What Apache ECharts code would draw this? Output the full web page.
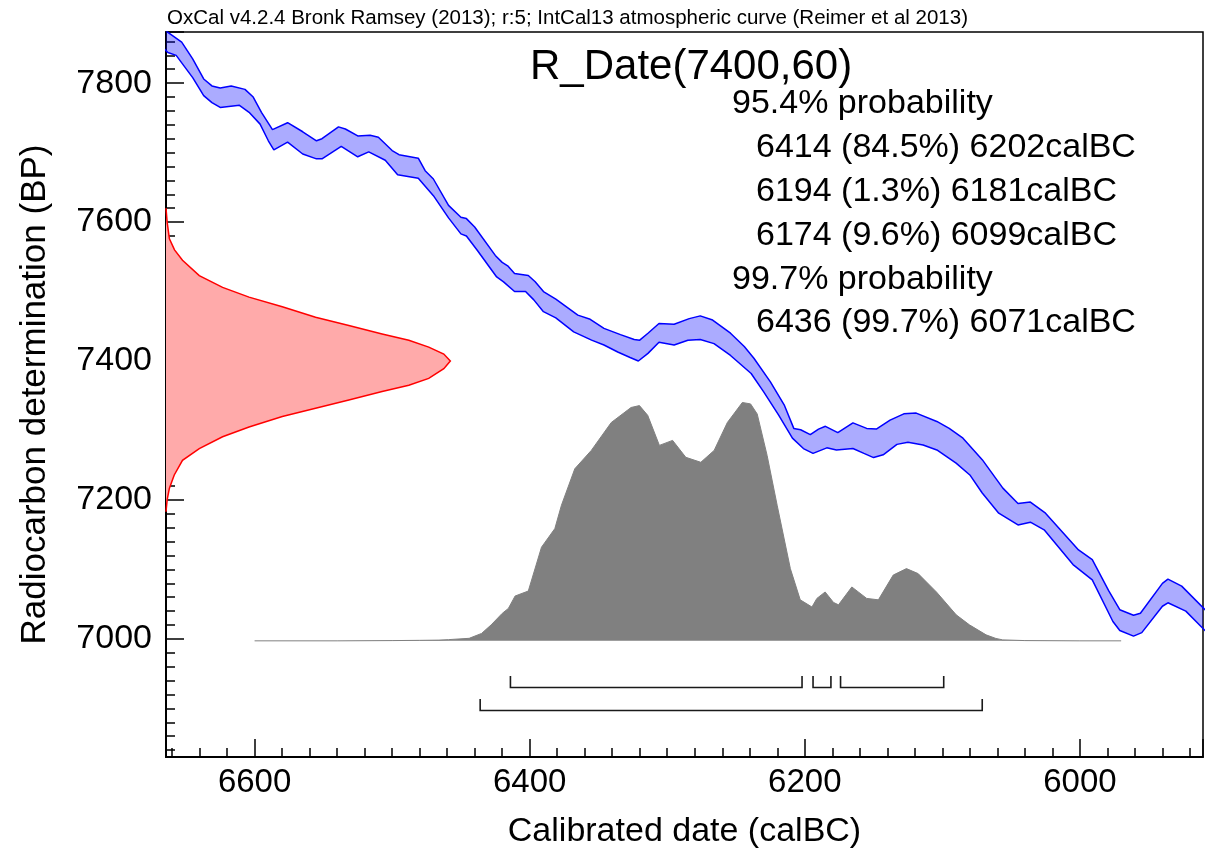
<!DOCTYPE html>
<html><head><meta charset="utf-8">
<script src="https://cdn.jsdelivr.net/npm/echarts@6/dist/echarts.min.js"></script>
<style>html,body{margin:0;padding:0;background:#fff;}#chart{width:1206px;height:854px;}</style>
</head><body><div id="chart"></div>
<script>
// ---- Data ----
const plotTitle = 'OxCal v4.2.4 Bronk Ramsey (2013); r:5; IntCal13 atmospheric curve (Reimer et al 2013)';
const dateName = 'R_Date(7400,60)';
const xAxisName = 'Calibrated date (calBC)';
const yAxisName = 'Radiocarbon determination (BP)';

// IntCal13 curve band: [calBC, BP] upper and lower edges
const calUpper = [[6666,7880],[6663,7873],[6653,7859],[6645,7835],[6637,7806],[6631,7796],[6625,7793],[6617,7796],[6607,7791],[6601,7780],[6595,7758],[6587,7733],[6576,7743],[6565,7730],[6555,7717],[6551,7720],[6539,7737],[6534,7734],[6525,7724],[6516,7725],[6510,7722],[6500,7703],[6495,7697],[6481,7692],[6476,7674],[6470,7662],[6459,7624],[6450,7607],[6446,7605],[6440,7593],[6425,7552],[6420,7542],[6416,7537],[6411,7526],[6401,7523],[6396,7514],[6390,7500],[6381,7489],[6365,7466],[6356,7460],[6346,7447],[6334,7438],[6324,7431],[6320,7430],[6314,7440],[6306,7454],[6295,7453],[6284,7461],[6276,7465],[6267,7459],[6254,7440],[6244,7421],[6237,7404],[6225,7370],[6215,7337],[6208,7303],[6203,7301],[6196,7294],[6190,7302],[6185,7306],[6176,7297],[6165,7311],[6155,7303],[6148,7302],[6138,7315],[6128,7324],[6119,7325],[6104,7313],[6095,7303],[6085,7289],[6071,7258],[6056,7217],[6045,7195],[6036,7197],[6025,7181],[6001,7128],[5991,7114],[5979,7069],[5971,7042],[5961,7034],[5956,7037],[5940,7080],[5936,7086],[5926,7076],[5908,7040]];
const calLower = [[6666,7850],[6663,7844],[6657,7840],[6645,7808],[6637,7782],[6631,7772],[6625,7765],[6611,7768],[6604,7758],[6596,7741],[6590,7717],[6586,7704],[6576,7715],[6565,7698],[6555,7691],[6551,7691],[6537,7709],[6525,7694],[6517,7701],[6505,7689],[6496,7668],[6481,7663],[6470,7638],[6459,7606],[6450,7583],[6446,7580],[6438,7559],[6424,7521],[6419,7514],[6411,7500],[6403,7500],[6397,7488],[6390,7471],[6381,7462],[6368,7442],[6355,7430],[6346,7423],[6336,7413],[6327,7405],[6321,7400],[6314,7411],[6306,7427],[6295,7423],[6285,7430],[6276,7431],[6266,7425],[6254,7408],[6239,7382],[6230,7356],[6219,7322],[6209,7289],[6201,7274],[6194,7267],[6184,7275],[6177,7272],[6165,7274],[6157,7267],[6150,7261],[6143,7265],[6133,7280],[6125,7283],[6114,7279],[6104,7272],[6090,7253],[6080,7236],[6071,7210],[6059,7181],[6045,7164],[6036,7168],[6026,7157],[6005,7107],[5991,7085],[5976,7025],[5971,7012],[5961,7004],[5955,7009],[5940,7047],[5936,7052],[5923,7040],[5908,7010]];

// Radiocarbon measurement distribution (BP, relative probability)
const measBP      = [7620, 7600, 7576, 7560, 7545, 7523, 7506, 7492, 7478, 7463, 7451, 7439, 7430, 7420, 7410, 7400, 7389, 7375, 7365, 7356, 7344, 7332, 7320, 7305, 7291, 7274, 7257, 7236, 7217, 7200, 7183];
const measProb    = [0, 0.004, 0.012, 0.03, 0.058, 0.117, 0.199, 0.292, 0.409, 0.526, 0.643, 0.76, 0.854, 0.924, 0.977, 1.0, 0.977, 0.924, 0.854, 0.76, 0.643, 0.526, 0.409, 0.292, 0.199, 0.117, 0.058, 0.029, 0.012, 0.004, 0];

// Calibrated posterior (calBC, relative probability)
const postYear = [6600, 6540, 6500, 6480, 6466, 6459, 6444, 6435, 6428, 6420, 6415.5, 6410.6, 6401, 6391.4, 6381.7, 6376.9, 6367.2, 6355.2, 6340.7, 6326.3, 6320.2, 6314.2, 6305.7, 6296.1, 6286.5, 6275.6, 6265.9, 6256.3, 6245.4, 6239.4, 6234.6, 6227.4, 6220.1, 6210.5, 6203.3, 6194.8, 6191.2, 6185.2, 6179.1, 6175.5, 6165.8, 6155, 6146.5, 6135.7, 6126.1, 6117.6, 6104.3, 6089.9, 6080.3, 6068.2, 6061.1, 6056.1, 6040, 6000, 5970];
const postProb = [0, 0, 0.001, 0.002, 0.003, 0.005, 0.0105, 0.031, 0.067, 0.115, 0.136, 0.188, 0.209, 0.393, 0.471, 0.569, 0.722, 0.799, 0.916, 0.979, 0.987, 0.946, 0.820, 0.841, 0.770, 0.749, 0.799, 0.916, 1.0, 0.994, 0.952, 0.778, 0.569, 0.303, 0.172, 0.142, 0.178, 0.205, 0.161, 0.151, 0.226, 0.178, 0.172, 0.276, 0.303, 0.282, 0.205, 0.109, 0.067, 0.025, 0.010, 0.004, 0.001, 0, 0];

// Ranges: [from calBC, to calBC, percent]
const ranges954 = [[6414, 6202, 84.5], [6194, 6181, 1.3], [6174, 6099, 9.6]];
const ranges997 = [[6436, 6071, 99.7]];
const prob954 = '95.4% probability';
const prob997 = '99.7% probability';

// ---- Chart ----
const FONT = "'Liberation Sans', Arial, Helvetica, sans-serif";
const chart = echarts.init(document.getElementById('chart'), null, { renderer: 'canvas' });

function clipOf(params) {
  const cs = params.coordSys;
  return { type: 'rect', shape: { x: cs.x, y: cs.y, width: cs.width, height: cs.height } };
}

function bandRender(params, api) {
  if (params.dataIndex !== 0) return null;
  const pts = calUpper.map(p => api.coord(p));
  for (let i = calLower.length - 1; i >= 0; i--) pts.push(api.coord(calLower[i]));
  return { type: 'polygon', shape: { points: pts }, style: { fill: 'rgba(0,0,255,0.33)' }, clipPath: clipOf(params), silent: true };
}

function measRender(params, api) {
  if (params.dataIndex !== 0) return null;
  const curve = measBP.map((bp, i) => api.coord([measProb[i], bp]));
  const b0 = api.coord([0, measBP[0]]);
  const b1 = api.coord([0, measBP[measBP.length - 1]]);
  return { type: 'group', children: [
    { type: 'polygon', shape: { points: [b0].concat(curve, [b1]) }, style: { fill: '#ffaaaa' } },
    { type: 'polyline', shape: { points: curve }, style: { stroke: '#ff0000', lineWidth: 1.5, fill: 'none' } }
  ]};
}

const BRACKET_LEVEL = [6930, 6897];
const BRACKET_TICK = 16.5;
function bracketRender(params, api) {
  const from = api.value(0), to = api.value(1), row = api.value(2);
  const y = BRACKET_LEVEL[row];
  const pts = [
    api.coord([from, y + BRACKET_TICK]), api.coord([from, y]),
    api.coord([to, y]), api.coord([to, y + BRACKET_TICK])
  ];
  return { type: 'polyline', shape: { points: pts }, style: { stroke: '#1a1a1a', lineWidth: 1.6, fill: 'none' } };
}

const bracketData = ranges954.map(r => [r[0], r[1], 0]).concat(ranges997.map(r => [r[0], r[1], 1]));

const labelFmt = v => (Math.abs(v % 200) < 1e-6 ? String(v) : '');

const axisCommon = {
  type: 'value',
  axisLine: { show: true, onZero: false, lineStyle: { color: '#000', width: 2 } },
  axisTick: { show: true, inside: true, length: 18, lineStyle: { color: '#000', width: 1.5 } },
  minorTick: { show: true, splitNumber: 10, length: 9, lineStyle: { color: '#000', width: 1.5 } },
  splitLine: { show: false },
  minorSplitLine: { show: false },
  nameLocation: 'middle'
};

// Info text block
const infoLines = [
  { text: prob954, indent: 0 }
].concat(ranges954.map(r => ({ text: r[0] + ' (' + r[2] + '%) ' + r[1] + 'calBC', indent: 1 })))
 .concat([{ text: prob997, indent: 0 }])
 .concat(ranges997.map(r => ({ text: r[0] + ' (' + r[2] + '%) ' + r[1] + 'calBC', indent: 1 })));

const graphics = [
  { type: 'text', x: 167, y: 18, style: { text: plotTitle, font: '20.5px ' + FONT, fill: '#000', verticalAlign: 'middle' } },
  { type: 'text', x: 530, y: 67, style: { text: dateName, font: '42px ' + FONT, fill: '#000', verticalAlign: 'middle' } }
];
infoLines.forEach((ln, i) => {
  graphics.push({ type: 'text', x: ln.indent ? 756 : 732, y: 104 + i * 43.8,
    style: { text: ln.text, font: '34px ' + FONT, fill: '#000', verticalAlign: 'middle' } });
});

const option = {
  animation: false,
  backgroundColor: '#fff',
  grid: { left: 166, top: 32, right: -2, bottom: 95, show: true, borderColor: '#000', borderWidth: 1.5, containLabel: false },
  xAxis: [
    Object.assign({}, axisCommon, {
      inverse: true, min: 5910.5, max: 6664.4, splitNumber: 4,
      axisLabel: { fontSize: 33, color: '#000', margin: 9, fontFamily: FONT, formatter: labelFmt },
      name: xAxisName, nameGap: 58, nameTextStyle: { fontSize: 34, color: '#000', fontFamily: FONT }
    }),
    { type: 'value', min: 0, max: 3.647, show: false }
  ],
  yAxis: [
    Object.assign({}, axisCommon, {
      min: 6830, max: 7873.6, splitNumber: 5,
      axisLabel: { fontSize: 34, color: '#000', margin: 14, fontFamily: FONT, formatter: labelFmt },
      name: yAxisName, nameGap: 113, nameTextStyle: { fontSize: 35, color: '#000', fontFamily: FONT }
    }),
    { type: 'value', min: -0.4874, max: 2.5544, show: false }
  ],
  graphic: graphics,
  series: [
    { type: 'custom', name: 'curve band', xAxisIndex: 0, yAxisIndex: 0, data: calUpper, renderItem: bandRender, z: 1, silent: true },
    { type: 'line', name: 'curve upper', xAxisIndex: 0, yAxisIndex: 0, data: calUpper, showSymbol: false, symbol: 'none', lineStyle: { color: '#0000ff', width: 1.5 }, z: 3, silent: true },
    { type: 'line', name: 'curve lower', xAxisIndex: 0, yAxisIndex: 0, data: calLower, showSymbol: false, symbol: 'none', lineStyle: { color: '#0000ff', width: 1.5 }, z: 3, silent: true },
    { type: 'custom', name: 'measurement', xAxisIndex: 1, yAxisIndex: 0, data: measBP.map((bp, i) => [measProb[i], bp]), renderItem: measRender, z: 2, silent: true },
    { type: 'line', name: 'posterior', xAxisIndex: 0, yAxisIndex: 1, data: postYear.map((y, i) => [y, postProb[i]]), showSymbol: false, symbol: 'none',
      lineStyle: { color: '#808080', width: 1 }, areaStyle: { color: '#808080', opacity: 1 }, z: 2, silent: true },
    { type: 'custom', name: 'ranges', xAxisIndex: 0, yAxisIndex: 0, data: bracketData, renderItem: bracketRender, z: 3, silent: true }
  ]
};
chart.setOption(option);
</script></body></html>
